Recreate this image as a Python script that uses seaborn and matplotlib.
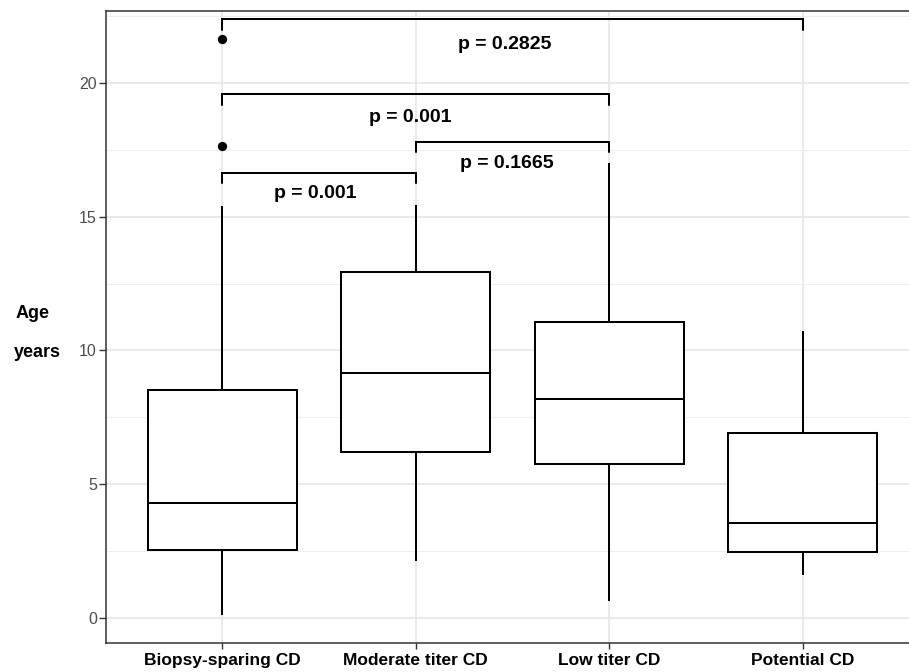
import numpy as np
import pandas as pd
import matplotlib
matplotlib.use("Agg")
import matplotlib.pyplot as plt
from matplotlib.ticker import FixedLocator
import seaborn as sns

# ---------------- data ----------------
categories = ["Biopsy-sparing CD", "Moderate titer CD", "Low titer CD", "Potential CD"]
whisker_low = [0.11, 2.14, 0.65, 1.61]
q1 = [2.54, 6.21, 5.77, 2.46]
median = [4.30, 9.16, 8.19, 3.56]
q3 = [8.51, 12.92, 11.05, 6.90]
whisker_high = [15.40, 15.44, 17.00, 10.73]

outlier_group = ["Biopsy-sparing CD", "Biopsy-sparing CD"]
outlier_age = [17.64, 21.63]

bracket_start = [0, 1, 0, 0]
bracket_end = [1, 2, 2, 3]
bracket_height = [16.65, 17.81, 19.58, 22.38]
bracket_tip = 0.40
p_labels = ["p = 0.001", "p = 0.1665", "p = 0.001", "p = 0.2825"]
p_label_x = [0.483, 1.47, 0.973, 1.462]
p_label_y = [15.69, 16.81, 18.55, 21.26]

y_ticks = [0, 5, 10, 15, 20]
y_minor = [2.5, 7.5, 12.5, 17.5, 22.5]

# five-number summaries -> long table (with 5 points, quartiles are exact)
rows = []
for g, lo, a, m, b, hi in zip(categories, whisker_low, q1, median, q3, whisker_high):
    for v in (lo, a, m, b, hi):
        rows.append({"group": g, "age": v})
df = pd.DataFrame(rows)

# ---------------- style ----------------
sns.set_theme(style="ticks")
plt.rcParams["font.family"] = ["Liberation Sans", "DejaVu Sans"]

fig = plt.figure(figsize=(9.09, 6.72), dpi=100)
ax = fig.add_axes([106 / 909, 29 / 672, 813 / 909, 632 / 672])

sns.boxplot(
    data=df, x="group", y="age", order=categories,
    whis=(0, 100), width=0.77, color="white", linecolor="black",
    linewidth=1.45, fliersize=0, capprops=dict(visible=False), ax=ax,
)
sns.stripplot(
    x=outlier_group, y=outlier_age, order=categories, jitter=False,
    color="black", size=6.7, ax=ax, zorder=5,
)

# significance brackets
for s, e, h in zip(bracket_start, bracket_end, bracket_height):
    ax.plot([s, s, e, e], [h - bracket_tip, h, h, h - bracket_tip],
            color="black", lw=1.45, solid_joinstyle="miter", zorder=6)
for x, y, t in zip(p_label_x, p_label_y, p_labels):
    ax.text(x, y, t, ha="center", va="baseline", fontsize=14,
            fontweight="bold", color="black", zorder=7)

ax.set_xlim(-0.6, 3.6)
ax.set_ylim(-0.935, 22.69)
ax.set_yticks(y_ticks)
ax.yaxis.set_minor_locator(FixedLocator(y_minor))
ax.set_xlabel("")
ax.set_ylabel("")

ax.set_axisbelow(True)
ax.grid(which="major", axis="both", color="#E6E6E6", lw=1.2)
ax.grid(which="minor", axis="y", color="#EEEEEE", lw=0.7)
for sp in ax.spines.values():
    sp.set_visible(True)
    sp.set_color("#333333")
    sp.set_linewidth(1.1)

ax.tick_params(axis="y", which="major", length=5, width=1, color="#333333",
               labelsize=11.5, labelcolor="#4D4D4D", pad=1.5)
ax.tick_params(axis="y", which="minor", length=0)
ax.tick_params(axis="x", which="major", length=4, width=1, color="#333333",
               labelsize=12.5, labelcolor="black", pad=3)
for lab in ax.get_xticklabels():
    lab.set_fontweight("bold")

fig.text(33 / 909, 1 - 318 / 672, "Age", ha="center", va="baseline",
         fontsize=13, fontweight="bold", color="black")
fig.text(37 / 909, 1 - 356.7 / 672, "years", ha="center", va="baseline",
         fontsize=13, fontweight="bold", color="black")

fig.savefig("out.png", dpi=100)
